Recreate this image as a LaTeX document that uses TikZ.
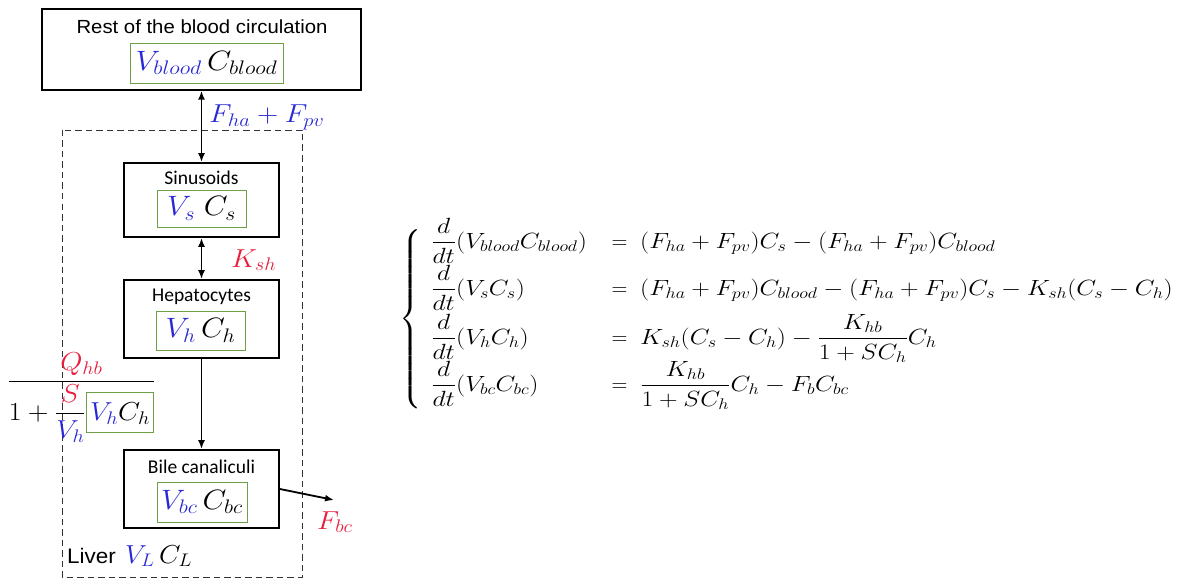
\RequirePackage{fix-cm}
\documentclass[tikz,border=0pt]{standalone}
\usepackage{amsmath}
\usepackage{graphicx}
\usepackage{fontspec}
\usetikzlibrary{arrows.meta}
\newfontfamily\arialf{Liberation Sans}
\newfontfamily\calf{Carlito}
\definecolor{eqblue}{RGB}{40,40,215}
\definecolor{eqred}{RGB}{230,30,60}
\definecolor{boxgreen}{RGB}{110,160,70}
\newcommand\mblue[1]{\textcolor{eqblue}{#1}}
\newcommand\mred[1]{\textcolor{eqred}{#1}}
\newcommand\hsc[2]{\scalebox{#1}[1]{#2}}
\begin{document}
\begin{tikzpicture}[x=1pt,y=-1pt,
  outerbox/.style={draw=black,line width=1.8pt,inner sep=0pt},
  greenbox/.style={draw=boxgreen,line width=0.9pt,inner sep=0pt,fill=white,
     font=\fontsize{28}{34}\selectfont},
  boxtitle/.style={inner sep=0pt,font=\calf\fontsize{19.5}{23}\selectfont},
  flow/.style={line width=1.8pt,-{Latex[length=9pt,width=7pt]}},
  flowboth/.style={line width=1.8pt,{Latex[length=9pt,width=7pt]}-{Latex[length=9pt,width=7pt]}},
  lbl/.style={inner sep=0pt,font=\fontsize{26}{31}\selectfont},
  eq/.style={inner sep=0pt,font=\fontsize{22}{27}\selectfont}]
\useasboundingbox (0,0) rectangle (1177,580);

% liver (dashed)
\draw[black!80,line width=0.9pt,dash pattern=on 6.5pt off 4pt] (62,130) rectangle (302,577);

% rest of blood circulation
\node[outerbox,line width=1.3pt,minimum width=319pt,minimum height=81pt] (blood) at (201.5,49.5) {};
\node[inner sep=0pt,font=\arialf\fontsize{19}{23}\selectfont] (bloodlab) at (202,27) {\hsc{1.07}{Rest of the blood circulation}};
\node[greenbox,minimum width=153pt,minimum height=40pt] (bloodvar) at (206.5,63) {\hsc{1.12}{$\mblue{V_{blood}}\,C_{blood}$}};

% sinusoids
\node[outerbox,minimum width=155pt,minimum height=74pt] (sin) at (201.5,200) {};
\node[boxtitle] (sinlab) at (201.5,178) {Sinusoids};
\node[greenbox,minimum width=89pt,minimum height=37pt] (sinvar) at (201.5,208.5) {\hsc{1.1}{$\mblue{V_s}\;C_s$}};

% hepatocytes
\node[outerbox,minimum width=155pt,minimum height=78pt] (hep) at (201.5,319) {};
\node[boxtitle] (heplab) at (201.5,297) {Hepatocytes};
\node[greenbox,minimum width=89pt,minimum height=39pt] (hepvar) at (200.5,330.5) {\hsc{1.1}{$\mblue{V_h}\,C_h$}};

% bile canaliculi
\node[outerbox,minimum width=155pt,minimum height=78pt] (bile) at (201.5,489) {};
\node[boxtitle] (bilelab) at (201.5,467) {Bile canaliculi};
\node[greenbox,minimum width=90pt,minimum height=40pt] (bilevar) at (202,502) {\hsc{1.1}{$\mblue{V_{bc}}\,C_{bc}$}};

% connectors
\draw[flowboth] (blood.south) -- (sin.north);
\draw[flowboth] (sin.south) -- (hep.north);
\draw[flow] (hep.south) -- (bile.north);
\coordinate (out) at (334,500);
\draw[flow] (bile.east |- 0,489) -- (out);

% labels
\node[lbl,anchor=base west] (fhfp) at (209,123) {\hsc{1.13}{$\mblue{F_{ha}+F_{pv}}$}};
\node[lbl,anchor=base west] (ksh) at (231,267) {\hsc{1.1}{$\mred{K_{sh}}$}};
\node[lbl,anchor=base west] (fbc) at (317,529) {\hsc{1.1}{$\mred{F_{bc}}$}};
\node[lbl,anchor=base west] (liver) at (67,563) {\hsc{1.07}{{\arialf\fontsize{21}{25}\selectfont Liver}\,\,$\mblue{V_L}\,C_L$}};

% flux fraction
\setlength{\fboxrule}{0.9pt}\setlength{\fboxsep}{3pt}
\node[lbl,anchor=base west] (flux) at (7,388) {\hsc{1.1}{$\dfrac{\mred{Q_{hb}}}{1+\dfrac{\mred{S}}{\mblue{V_h}}\fcolorbox{boxgreen}{white}{\rule[-9pt]{0pt}{33pt}$\mblue{V_h}C_h$}}$}};

% equations
\node[inner sep=0pt] (brace) at (411,320) {\fontsize{23}{28}\selectfont$\left\{\rule[-86pt]{0pt}{172pt}\right.$};

\node[eq,anchor=base west] (l1) at (431,248) {\hsc{1.17}{$\displaystyle\frac{d}{dt}(V_{blood}C_{blood})$}};
\node[eq,anchor=base] (e1) at (619.5,248) {$=$};
\node[eq,anchor=base west] (r1) at (640,248) {\hsc{1.17}{$(F_{ha}+F_{pv})C_s-(F_{ha}+F_{pv})C_{blood}$}};

\node[eq,anchor=base west] (l2) at (431,295) {\hsc{1.17}{$\displaystyle\frac{d}{dt}(V_sC_s)$}};
\node[eq,anchor=base] (e2) at (619.5,295) {$=$};
\node[eq,anchor=base west] (r2) at (640,295) {\hsc{1.17}{$(F_{ha}+F_{pv})C_{blood}-(F_{ha}+F_{pv})C_s-K_{sh}(C_s-C_h)$}};

\node[eq,anchor=base west] (l3) at (431,344) {\hsc{1.17}{$\displaystyle\frac{d}{dt}(V_hC_h)$}};
\node[eq,anchor=base] (e3) at (619.5,344) {$=$};
\node[eq,anchor=base west] (r3) at (640,344) {\hsc{1.17}{$\displaystyle K_{sh}(C_s-C_h)-\frac{K_{hb}}{1+SC_h}C_h$}};

\node[eq,anchor=base west] (l4) at (431,391) {\hsc{1.17}{$\displaystyle\frac{d}{dt}(V_{bc}C_{bc})$}};
\node[eq,anchor=base] (e4) at (619.5,391) {$=$};
\node[eq,anchor=base west] (r4) at (640,391) {\hsc{1.17}{$\displaystyle\frac{K_{hb}}{1+SC_h}C_h-F_bC_{bc}$}};
\end{tikzpicture}
\end{document}
